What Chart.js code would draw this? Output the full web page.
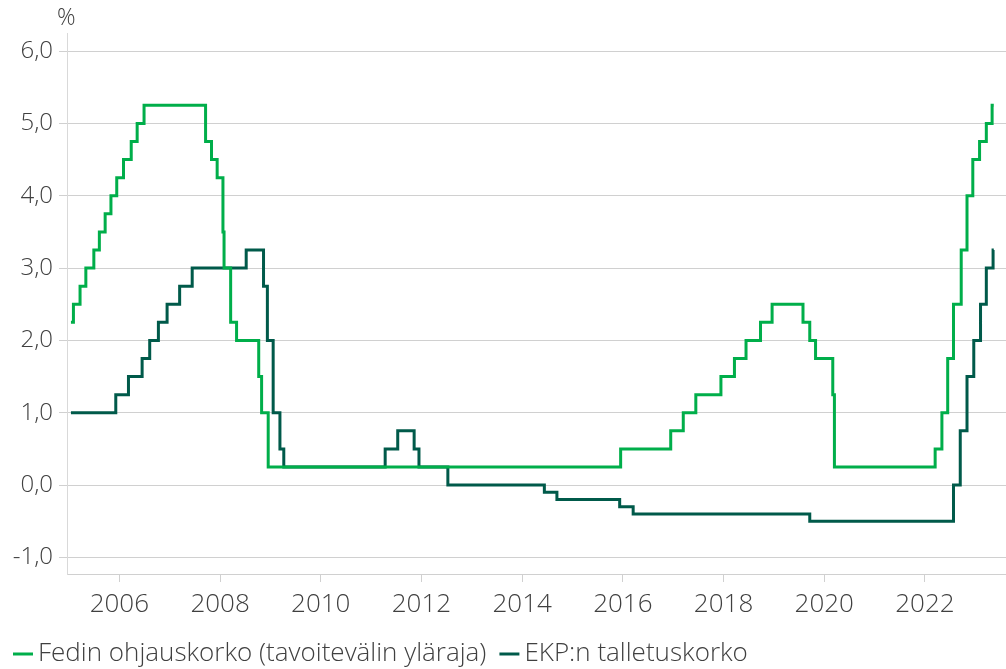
<!DOCTYPE html>
<html lang="fi">
<head>
<meta charset="UTF-8">
<title>Ohjauskorot</title>
<script src="https://cdn.jsdelivr.net/npm/chart.js"></script>
<style>
    body { margin: 0; background: #fff; }
    #wrap { width: 1006px; height: 669px; position: relative; }
</style>
</head>
<body>
<div id="wrap"><canvas id="korot"></canvas></div>
<script>
// Fedin ohjauskorko, tavoitevälin yläraja (muutospäivät)
const fedDates = ['2005-01-15', '2005-02-02', '2005-03-22', '2005-05-03', '2005-06-30', '2005-08-09',
    '2005-09-20', '2005-11-01', '2005-12-13', '2006-01-31', '2006-03-28', '2006-05-10', '2006-06-29',
    '2007-09-18', '2007-10-31', '2007-12-11', '2008-01-22', '2008-01-30', '2008-03-18', '2008-04-30',
    '2008-10-08', '2008-10-29', '2008-12-16', '2015-12-16', '2016-12-14', '2017-03-15', '2017-06-14',
    '2017-12-13', '2018-03-21', '2018-06-13', '2018-09-26', '2018-12-19', '2019-07-31', '2019-09-18',
    '2019-10-30', '2020-03-03', '2020-03-15', '2022-03-16', '2022-05-04', '2022-06-15', '2022-07-27',
    '2022-09-21', '2022-11-02', '2022-12-14', '2023-02-01', '2023-03-22', '2023-05-03', '2023-05-15'];
const fedRates = [2.25, 2.5, 2.75, 3.0, 3.25, 3.5,
    3.75, 4.0, 4.25, 4.5, 4.75, 5.0, 5.25,
    4.75, 4.5, 4.25, 3.5, 3.0, 2.25, 2.0,
    1.5, 1.0, 0.25, 0.5, 0.75, 1.0, 1.25,
    1.5, 1.75, 2.0, 2.25, 2.5, 2.25, 2.0,
    1.75, 1.25, 0.25, 0.5, 1.0, 1.75, 2.5,
    3.25, 4.0, 4.5, 4.75, 5.0, 5.25, 5.25];

// EKP:n talletuskorko (muutospäivät)
const ecbDates = ['2005-01-15', '2005-12-06', '2006-03-08', '2006-06-15', '2006-08-09', '2006-10-11',
    '2006-12-13', '2007-03-14', '2007-06-13', '2008-07-09', '2008-11-12', '2008-12-10', '2009-01-21',
    '2009-03-11', '2009-04-08', '2011-04-13', '2011-07-13', '2011-11-09', '2011-12-14', '2012-07-11',
    '2014-06-11', '2014-09-10', '2015-12-09', '2016-03-16', '2019-09-18', '2022-07-27', '2022-09-14',
    '2022-11-02', '2022-12-21', '2023-02-08', '2023-03-22', '2023-05-10', '2023-05-15'];
const ecbRates = [1.0, 1.25, 1.5, 1.75, 2.0, 2.25,
    2.5, 2.75, 3.0, 3.25, 2.75, 2.0, 1.0,
    0.5, 0.25, 0.5, 0.75, 0.5, 0.25, 0.0,
    -0.1, -0.2, -0.3, -0.4, -0.5, 0.0, 0.75,
    1.5, 2.0, 2.5, 3.0, 3.25, 3.25];

const xTicks = [2006, 2008, 2010, 2012, 2014, 2016, 2018, 2020, 2022];
const yTicks = [-1, 0, 1, 2, 3, 4, 5, 6];

const tekstiVari = '#404040';
const fontti = "'Open Sans', sans-serif";

// päivämäärä -> desimaalivuosi
function vuosi(s) {
    const [y, m, d] = s.split('-').map(Number);
    const alku = Date.UTC(y, 0, 1), loppu = Date.UTC(y + 1, 0, 1);
    return y + (Date.UTC(y, m - 1, d) - alku) / (loppu - alku);
}
function pisteet(pvm, arvot) {
    return pvm.map((p, i) => ({ x: vuosi(p), y: arvot[i] }));
}

// "%" y-akselin yläpuolelle
const prosenttiMerkki = {
    id: 'prosentti',
    afterDraw(chart) {
        const c = chart.ctx;
        c.save();
        c.font = '300 23px ' + fontti;
        c.fillStyle = tekstiVari;
        c.textAlign = 'left';
        c.textBaseline = 'alphabetic';
        c.fillText('%', chart.chartArea.left - 10, chart.chartArea.top - 8);
        c.restore();
    }
};

const ctx = document.getElementById('korot').getContext('2d');
new Chart(ctx, {
    type: 'line',
    data: {
        datasets: [{
            label: 'Fedin ohjauskorko (tavoitevälin yläraja)',
            data: pisteet(fedDates, fedRates),
            borderColor: '#00AE4A',
            borderWidth: 3,
            stepped: true,
            pointRadius: 0,
            fill: false
        }, {
            label: 'EKP:n talletuskorko',
            data: pisteet(ecbDates, ecbRates),
            borderColor: '#005A4A',
            borderWidth: 3,
            stepped: true,
            pointRadius: 0,
            fill: false
        }]
    },
    options: {
        responsive: true,
        maintainAspectRatio: false,
        animation: false,
        layout: { padding: { top: 33, right: 0, bottom: -8, left: 0 } },
        scales: {
            x: {
                type: 'linear',
                min: 2004.96,
                max: 2023.61,
                afterBuildTicks: s => { s.ticks = xTicks.map(v => ({ value: v })); },
                afterFit: s => { s.height = 46; },
                ticks: {
                    callback: v => String(v),
                    color: tekstiVari,
                    font: { family: fontti, size: 26, weight: '300' },
                    padding: 7,
                    maxRotation: 0
                },
                grid: { drawOnChartArea: false, tickLength: 8, color: '#d0d0d0' },
                border: { color: '#d0d0d0' }
            },
            y: {
                min: -1.23,
                max: 6.25,
                afterBuildTicks: s => { s.ticks = yTicks.map(v => ({ value: v })); },
                afterFit: s => { s.width = 67; },
                ticks: {
                    callback: v => v.toFixed(1).replace('.', ','),
                    color: tekstiVari,
                    font: { family: fontti, size: 24, weight: '300' },
                    padding: 6
                },
                grid: { color: '#d0d0d0', tickLength: 8 },
                border: { color: '#d9d9d9' }
            }
        },
        plugins: {
            tooltip: { enabled: false },
            legend: {
                position: 'bottom',
                align: 'start',
                labels: {
                    usePointStyle: true,
                    pointStyle: 'line',
                    boxWidth: 4,
                    boxHeight: 14.14,
                    padding: 21,
                    color: tekstiVari,
                    font: { family: fontti, size: 26, weight: '300' }
                }
            }
        }
    },
    plugins: [prosenttiMerkki]
});
</script>
</body>
</html>
